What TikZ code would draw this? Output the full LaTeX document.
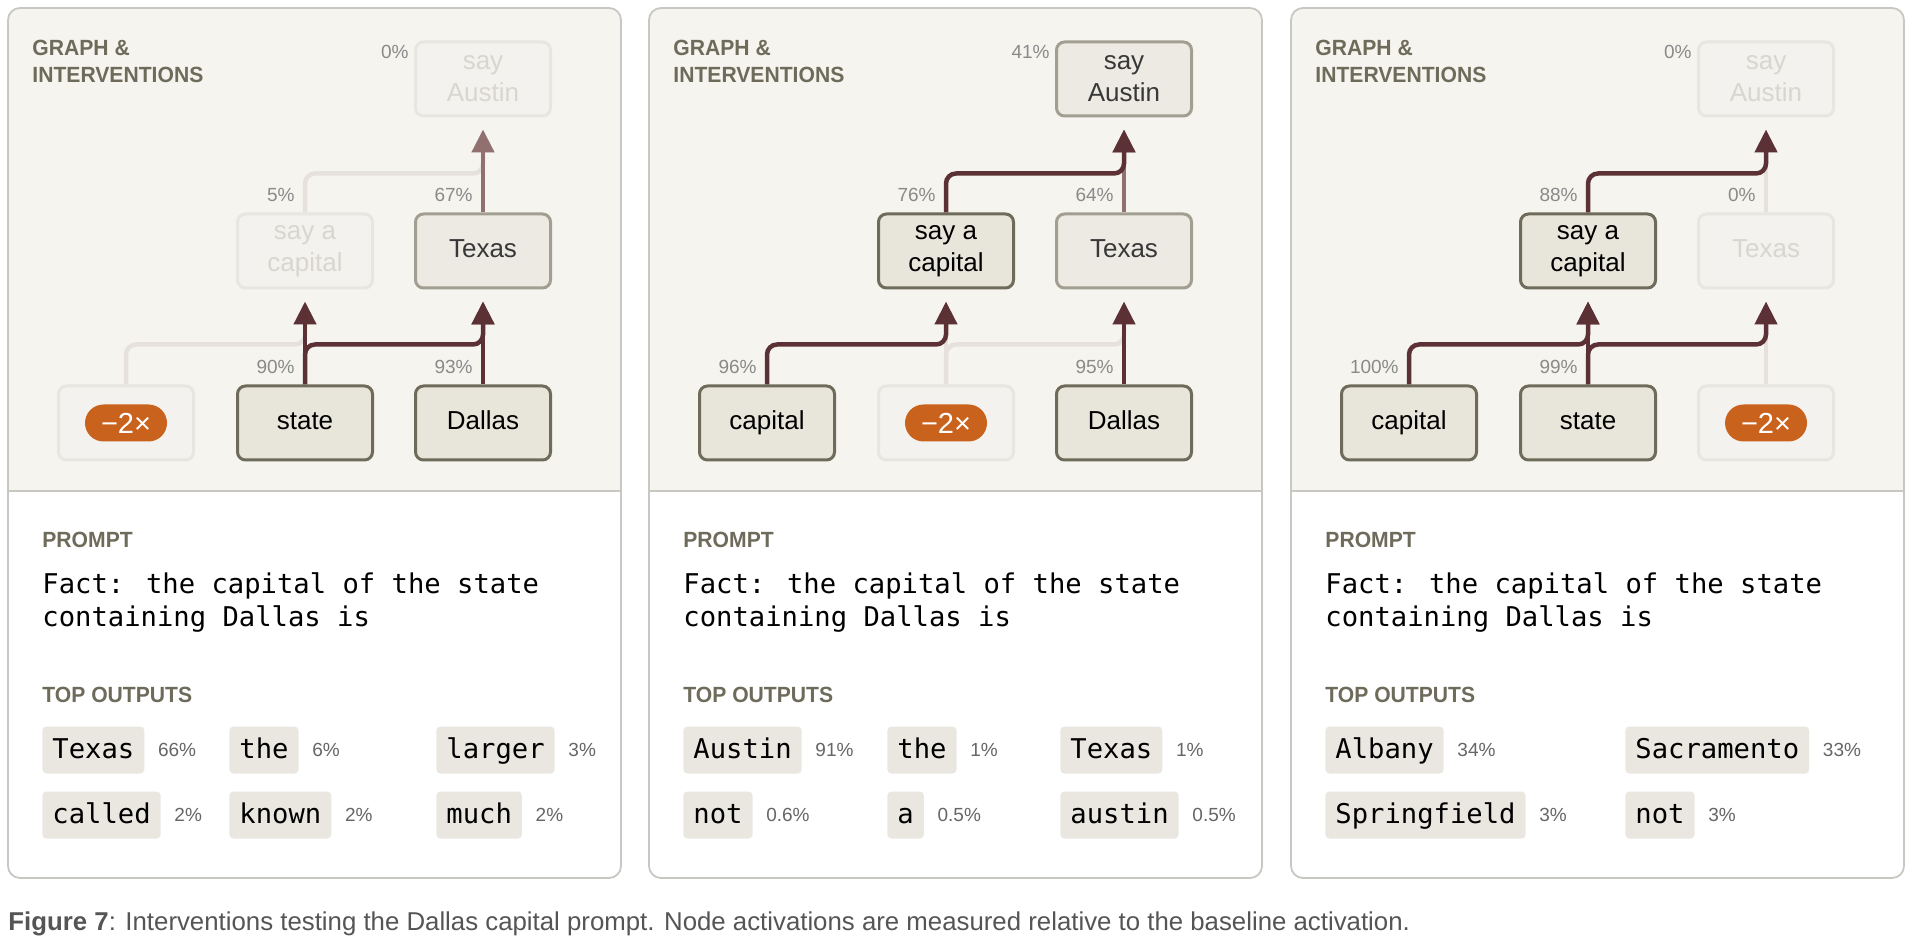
\documentclass[tikz,border=0pt]{standalone}
\usepackage{fontspec}
\setmainfont{Liberation Sans}
\newfontfamily\headfont[FakeStretch=0.96]{Liberation Sans}
\newfontfamily\promptfont{DejaVu Sans Mono}
\usetikzlibrary{positioning}
\usetikzlibrary{calc}
\usetikzlibrary{arrows.meta}
\definecolor{graphbg}{HTML}{F5F4EF}
\definecolor{frame}{HTML}{C9C7C1}
\definecolor{headgray}{HTML}{6E6B5B}
\definecolor{nodeon}{HTML}{E8E5DA}
\definecolor{borderon}{HTML}{6F6B5A}
\definecolor{nodemid}{HTML}{ECEAE3}
\definecolor{bordermid}{HTML}{A29F92}
\definecolor{nodeoff}{HTML}{F3F2EE}
\definecolor{borderoff}{HTML}{E8E6E0}
\definecolor{textoff}{HTML}{D8D6CF}
\definecolor{edgeon}{HTML}{5C3135}
\definecolor{edgemid}{HTML}{917070}
\definecolor{edgeoff}{HTML}{E7E1DD}
\definecolor{pillorange}{HTML}{C9621C}
\definecolor{chipfill}{HTML}{EAE7E1}
\definecolor{pctgray}{HTML}{8A8A8A}
\definecolor{sharegray}{HTML}{666666}
\definecolor{captiongray}{HTML}{555555}

\begin{document}
\begin{tikzpicture}[
	x=0.5pt, y=-0.5pt,
	feat/.style={rounded corners=4pt, line width=1.5pt, minimum width=67.5pt, minimum height=37pt,
		inner sep=0pt, align=center, font=\fontsize{13}{16}\selectfont},
	oneline/.style={text height=9.4pt, text depth=2.7pt},
	active/.style={feat, draw=borderon, fill=nodeon, text=black},
	partial/.style={feat, draw=bordermid, fill=nodemid, text=black!78},
	muted/.style={feat, draw=borderoff, fill=nodeoff, text=textoff},
	pill/.style={fill=pillorange, text=white, rounded corners=9.25pt, minimum width=41pt,
		minimum height=18.5pt, inner sep=0pt, font=\fontsize{14.5}{16}\selectfont},
	link/.style={line width=2.25pt, rounded corners=5pt, -{Triangle[width=11pt,length=11.5pt]}},
	strong/.style={link, draw=edgeon},
	mild/.style={link, draw=edgemid},
	faint/.style={link, draw=edgeoff},
	pct/.style={font=\fontsize{9.5}{11}\selectfont, text=pctgray, inner sep=0pt, anchor=base east},
	head/.style={font=\headfont\bfseries\fontsize{11}{13.5}\selectfont, text=headgray,
		inner sep=0pt, anchor=base west, align=left},
	prompt/.style={font=\promptfont\fontsize{13.6}{16.5}\selectfont, inner sep=0pt,
		anchor=base west, align=left},
	chip/.style={fill=chipfill, rounded corners=2pt, font=\promptfont\fontsize{13.6}{16}\selectfont,
		text height=11pt, text depth=3pt, minimum height=23.5pt, inner xsep=5pt, inner ysep=0pt, anchor=west},
	share/.style={font=\fontsize{9.5}{11}\selectfont, text=sharegray, inner sep=0pt, anchor=west}
]

	% definitions
	\def\pw{613}
	\def\top{8}
	\def\bot{878}
	\def\split{491}
	\def\rise{20pt}
	\def\gap{-6pt}

	\fill[white] (0,0) rectangle (1920,940);
	\useasboundingbox (0,0) rectangle (1920,940);

	% panels
	\foreach \L in {8,649,1291}{
		\begin{scope}[shift={(\L,0)}]
			\begin{scope}
				\clip (0,\top) rectangle (\pw,\split);
				\fill[graphbg, rounded corners=6pt] (0,\top) rectangle (\pw,\bot);
			\end{scope}
			\draw[frame, line width=0.9pt] (0,\split) -- (\pw,\split);
			\draw[frame, line width=0.9pt, rounded corners=6pt] (0,\top) rectangle (\pw,\bot);
			% base anchor sits on the last line
			\node[head] (graph\L) at (24,83) {GRAPH \&\\INTERVENTIONS};
			\node[head] (prompt\L) at (34,547) {PROMPT};
			\node[head] (outputs\L) at (34,702) {TOP OUTPUTS};
			\node[prompt] (fact\L) at (34,626) {Fact: the capital of the state\\containing Dallas is};
		\end{scope}
	}

	% panel 1: capital suppressed
	\begin{scope}[shift={(8,0)}]
		\node[muted] (a1) at (118,423) {};
		\node[pill] (a1x) at (a1) {−2×};
		\node[active, oneline] (a2) at (297,423) {state};
		\node[active, oneline] (a3) at (475,423) {Dallas};
		\node[muted] (a4) at (297,251) {say a\\capital};
		\node[partial, oneline] (a5) at (475,251) {Texas};
		\node[muted] (a6) at (475,79) {say\\Austin};

		\draw[faint] (a1.north) -- ([yshift=\rise]a1.north) -| ([yshift=\gap]a4.south);
		\draw[faint] (a4.north) -- ([yshift=19.5pt]a4.north) -| ([yshift=\gap]a6.south);
		\draw[mild] (a5.north) -- ([yshift=\gap]a6.south);
		\draw[strong] (a2.north) -- ([yshift=\gap]a4.south);
		\draw[strong] (a2.north) -- ([yshift=\rise]a2.north) -| ([yshift=\gap]a5.south);
		\draw[strong] (a3.north) -- ([yshift=\gap]a5.south);

		\node[pct] (a2p) at ([xshift=-5pt,yshift=5.5pt]a2.north) {90\%};
		\node[pct] (a3p) at ([xshift=-5pt,yshift=5.5pt]a3.north) {93\%};
		\node[pct] (a4p) at ([xshift=-5pt,yshift=5.5pt]a4.north) {5\%};
		\node[pct] (a5p) at ([xshift=-5pt,yshift=5.5pt]a5.north) {67\%};
		\node[pct] (a6p) at ([xshift=-2.5pt,yshift=-9pt]a6.north west) {0\%};

		\foreach \tok/\val/\cx/\cy [count=\k] in {Texas/66/34/750, the/6/221/750, larger/3/428/750,
			called/2/34/815, known/2/221/815, much/2/428/815}{
			\node[chip] (atok\k) at (\cx,\cy) {\tok};
			\node[share] (aval\k) at ([xshift=6.5pt]atok\k.east) {\val\%};
		}
	\end{scope}

	% panel 2: state suppressed
	\begin{scope}[shift={(649,0)}]
		\node[active, oneline] (b1) at (118,423) {capital};
		\node[muted] (b2) at (297,423) {};
		\node[pill] (b2x) at (b2) {−2×};
		\node[active, oneline] (b3) at (475,423) {Dallas};
		\node[active] (b4) at (297,251) {say a\\capital};
		\node[partial, oneline] (b5) at (475,251) {Texas};
		\node[partial] (b6) at (475,79) {say\\Austin};

		\draw[faint] (b2.north) -- ([yshift=\gap]b4.south);
		\draw[faint] (b2.north) -- ([yshift=\rise]b2.north) -| ([yshift=\gap]b5.south);
		\draw[mild] (b5.north) -- ([yshift=\gap]b6.south);
		\draw[strong] (b1.north) -- ([yshift=\rise]b1.north) -| ([yshift=\gap]b4.south);
		\draw[strong] (b3.north) -- ([yshift=\gap]b5.south);
		\draw[strong] (b4.north) -- ([yshift=19.5pt]b4.north) -| ([yshift=\gap]b6.south);

		\node[pct] (b1p) at ([xshift=-5pt,yshift=5.5pt]b1.north) {96\%};
		\node[pct] (b3p) at ([xshift=-5pt,yshift=5.5pt]b3.north) {95\%};
		\node[pct] (b4p) at ([xshift=-5pt,yshift=5.5pt]b4.north) {76\%};
		\node[pct] (b5p) at ([xshift=-5pt,yshift=5.5pt]b5.north) {64\%};
		\node[pct] (b6p) at ([xshift=-2.5pt,yshift=-9pt]b6.north west) {41\%};

		\foreach \tok/\val/\cx/\cy [count=\k] in {Austin/91/34/750, the/1/238/750, Texas/1/411/750,
			not/0.6/34/815, a/0.5/238/815, austin/0.5/411/815}{
			\node[chip] (btok\k) at (\cx,\cy) {\tok};
			\node[share] (bval\k) at ([xshift=6.5pt]btok\k.east) {\val\%};
		}
	\end{scope}

	% panel 3: Dallas suppressed
	\begin{scope}[shift={(1291,0)}]
		\node[active, oneline] (c1) at (118,423) {capital};
		\node[active, oneline] (c2) at (297,423) {state};
		\node[muted] (c3) at (475,423) {};
		\node[pill] (c3x) at (c3) {−2×};
		\node[active] (c4) at (297,251) {say a\\capital};
		\node[muted, oneline] (c5) at (475,251) {Texas};
		\node[muted] (c6) at (475,79) {say\\Austin};

		\draw[faint] (c3.north) -- ([yshift=\gap]c5.south);
		\draw[faint] (c5.north) -- ([yshift=\gap]c6.south);
		\draw[strong] (c1.north) -- ([yshift=\rise]c1.north) -| ([yshift=\gap]c4.south);
		\draw[strong] (c2.north) -- ([yshift=\gap]c4.south);
		\draw[strong] (c2.north) -- ([yshift=\rise]c2.north) -| ([yshift=\gap]c5.south);
		\draw[strong] (c4.north) -- ([yshift=19.5pt]c4.north) -| ([yshift=\gap]c6.south);

		\node[pct] (c1p) at ([xshift=-5pt,yshift=5.5pt]c1.north) {100\%};
		\node[pct] (c2p) at ([xshift=-5pt,yshift=5.5pt]c2.north) {99\%};
		\node[pct] (c4p) at ([xshift=-5pt,yshift=5.5pt]c4.north) {88\%};
		\node[pct] (c5p) at ([xshift=-5pt,yshift=5.5pt]c5.north) {0\%};
		\node[pct] (c6p) at ([xshift=-2.5pt,yshift=-9pt]c6.north west) {0\%};

		\foreach \tok/\val/\cx/\cy [count=\k] in {Albany/34/34/750, Sacramento/33/334/750,
			Springfield/3/34/815, not/3/334/815}{
			\node[chip] (ctok\k) at (\cx,\cy) {\tok};
			\node[share] (cval\k) at ([xshift=6.5pt]ctok\k.east) {\val\%};
		}
	\end{scope}

	% caption
	\node[anchor=base west, inner sep=0pt, text=captiongray, font=\fontsize{12.9}{15}\selectfont]
		(caption) at (8,930) {\textbf{Figure 7}: Interventions testing the Dallas capital prompt. Node activations are measured relative to the baseline activation.};

\end{tikzpicture}
\end{document}
